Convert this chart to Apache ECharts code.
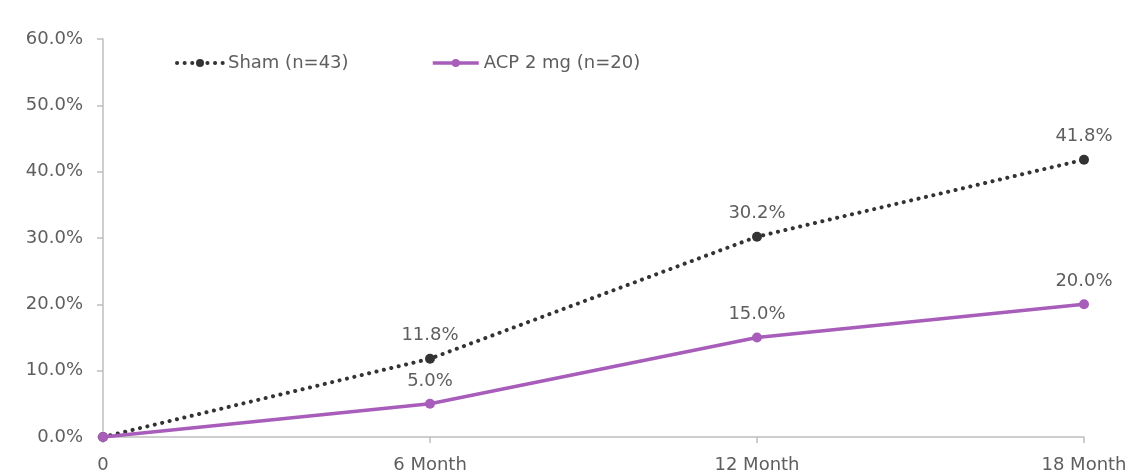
<!DOCTYPE html>
<html>
<head>
<meta charset="utf-8">
<script src="https://cdn.jsdelivr.net/npm/echarts@6/dist/echarts.min.js"></script>
<style>
  html, body { margin: 0; padding: 0; background: #ffffff; }
  #chart { width: 1136px; height: 475px; }
</style>
</head>
<body>
<div id="chart"></div>
<script>
// Cumulative rate over follow-up, by treatment arm
const categories = ['0', '6 Month', '12 Month', '18 Month'];
const shamValues = [0.0, 11.8, 30.2, 41.8];
const acpValues = [0.0, 5.0, 15.0, 20.0];
const seriesNames = ['Sham (n=43)', 'ACP 2 mg (n=20)'];
const yTicks = [0, 10, 20, 30, 40, 50, 60];

const textColor = '#5E5E5E';
const axisColor = '#BFBFBF';
const fontFamily = '"DejaVu Sans", sans-serif';
const fontSize = 18;

// Label every point except the origin
const labelUnlessZero = (p) => (p.dataIndex === 0 ? '' : p.value.toFixed(1) + '%');

const legendBase = {
  top: 49,
  itemWidth: 46,
  itemHeight: 10,
  lineStyle: { width: 'inherit' },
  textStyle: { color: textColor, fontSize: fontSize, fontFamily: fontFamily }
};

const chart = echarts.init(document.getElementById('chart'), null, { renderer: 'canvas' });
chart.setOption({
  animation: false,
  textStyle: { fontFamily: fontFamily },
  grid: { left: 103, right: 52, top: 39, bottom: 38, containLabel: false },
  legend: [
    Object.assign({ left: 170, data: [seriesNames[0]] }, legendBase),
    Object.assign({ left: 426, data: [seriesNames[1]] }, legendBase)
  ],
  xAxis: {
    type: 'category',
    data: categories,
    boundaryGap: false,
    axisLine: { show: true, lineStyle: { color: axisColor, width: 1.5 } },
    axisTick: { show: true, alignWithLabel: true, length: 6, lineStyle: { color: axisColor, width: 1.5 } },
    axisLabel: { color: textColor, fontSize: fontSize, margin: 19, fontFamily: fontFamily },
    splitLine: { show: false }
  },
  yAxis: {
    type: 'value',
    min: yTicks[0],
    max: yTicks[yTicks.length - 1],
    interval: 10,
    axisLine: { show: true, lineStyle: { color: axisColor, width: 1.5 } },
    axisTick: { show: true, length: 6, lineStyle: { color: axisColor, width: 1.5 } },
    axisLabel: { color: textColor, fontSize: fontSize, margin: 20, fontFamily: fontFamily,
      formatter: (v) => v.toFixed(1) + '%' },
    splitLine: { show: false }
  },
  series: [
    {
      name: seriesNames[0],
      type: 'line',
      data: shamValues,
      symbol: 'circle',
      symbolSize: 10,
      itemStyle: { color: '#333333' },
      lineStyle: { color: '#333333', width: 4, type: [0.1, 7.5], cap: 'round' },
      label: { show: true, position: 'top', distance: 9, color: textColor, fontSize: fontSize,
        fontFamily: fontFamily, formatter: labelUnlessZero },
      z: 2
    },
    {
      name: seriesNames[1],
      type: 'line',
      data: acpValues,
      symbol: 'circle',
      symbolSize: 10,
      itemStyle: { color: '#A75DB9' },
      lineStyle: { color: '#A75DB9', width: 3.5 },
      label: { show: true, position: 'top', distance: 9, color: textColor, fontSize: fontSize,
        fontFamily: fontFamily, formatter: labelUnlessZero },
      z: 3
    }
  ]
});
</script>
</body>
</html>
